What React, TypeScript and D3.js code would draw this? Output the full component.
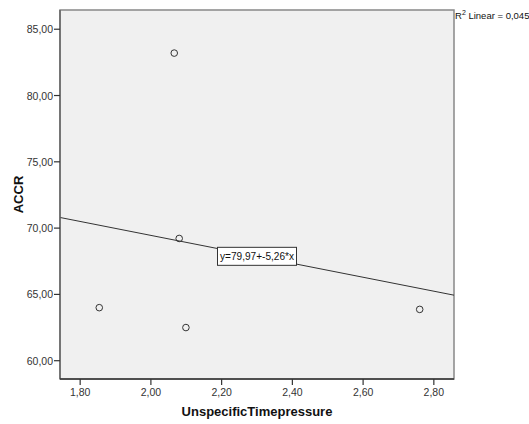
import React from "react";
import * as d3 from "d3";

const xValues = [2.066, 2.08, 1.854, 2.099, 2.76];
const yValues = [83.2, 69.22, 64.0, 62.5, 63.87];
const xTicks = [1.8, 2.0, 2.2, 2.4, 2.6, 2.8];
const yTicks = [60, 65, 70, 75, 80, 85];
const intercept = 79.97;
const slope = -5.26;
const rSquared = "0,045";
const xTitle = "UnspecificTimepressure";
const yTitle = "ACCR";

const W = 529;
const H = 424;
const left = 60;
const right = 454;
const top = 10;
const bottom = 379;
const font = "'Liberation Sans', Arial, sans-serif";

const fmt = (v: number) => v.toFixed(2).replace(".", ",");

export default function App() {
  const x = d3.scaleLinear().domain([1.743, 2.857]).range([left, right]);
  const y = d3.scaleLinear().domain([58.62, 86.45]).range([bottom, top]);
  const [x0, x1] = x.domain();
  const line = d3.line<number>().x((d) => x(d)).y((d) => y(intercept + slope * d));
  const xm = (x0 + x1) / 2;
  const lx = x(xm);
  const ly = y(intercept + slope * xm);
  const label = `y=${fmt(intercept)}+-${fmt(-slope)}*x`;
  return (
    <svg width={W} height={H} style={{ position: "absolute", left: 0, top: 0, background: "#fff" }} fontFamily={font}>
      <rect x={left} y={top} width={right - left} height={bottom - top} fill="#f0f0f0" stroke="#888" strokeWidth={1.5} />
      <clipPath id="plotclip">
        <rect x={left} y={top} width={right - left} height={bottom - top} />
      </clipPath>
      <path d={line([x0, x1]) || ""} stroke="#333" strokeWidth={1} fill="none" clipPath="url(#plotclip)" />
      {xValues.map((xv, i) => (
        <circle key={i} cx={x(xv)} cy={y(yValues[i])} r={3.3} fill="none" stroke="#333" strokeWidth={1} />
      ))}
      <g>
        <rect x={lx - 39.5} y={ly - 9} width={79} height={18} fill="#fff" stroke="#333" strokeWidth={1} />
        <text x={lx} y={ly + 4} textAnchor="middle" fontSize={10} textLength={74} lengthAdjust="spacingAndGlyphs" fill="#111">{label}</text>
      </g>
      <line x1={left} x2={left} y1={top} y2={bottom} stroke="#666" strokeWidth={1.5} />
      <line x1={left} x2={right} y1={bottom} y2={bottom} stroke="#333" strokeWidth={1.5} />
      {yTicks.map((t) => (
        <g key={t}>
          <line x1={left - 6} x2={left} y1={y(t)} y2={y(t)} stroke="#333" strokeWidth={1.2} />
          <text x={left - 7} y={y(t) + 4} textAnchor="end" fontSize={10.5} fill="#333">{fmt(t)}</text>
        </g>
      ))}
      {xTicks.map((t) => (
        <g key={t}>
          <line x1={x(t)} x2={x(t)} y1={bottom} y2={bottom + 6} stroke="#333" strokeWidth={1.2} />
          <text x={x(t)} y={bottom + 17} textAnchor="middle" fontSize={10.5} fill="#333">{fmt(t)}</text>
        </g>
      ))}
      <text x={(left + right) / 2} y={416} textAnchor="middle" fontSize={13} fontWeight="bold" fill="#111">{xTitle}</text>
      <text transform={`translate(23,${(top + bottom) / 2}) rotate(-90)`} textAnchor="middle" fontSize={13} fontWeight="bold" fill="#111">{yTitle}</text>
      <text x={right + 1} y={top + 9} fontSize={9.5} fill="#111">
        R<tspan dy={-4} fontSize={7}>2</tspan><tspan dy={4}> Linear = {rSquared}</tspan>
      </text>
    </svg>
  );
}
